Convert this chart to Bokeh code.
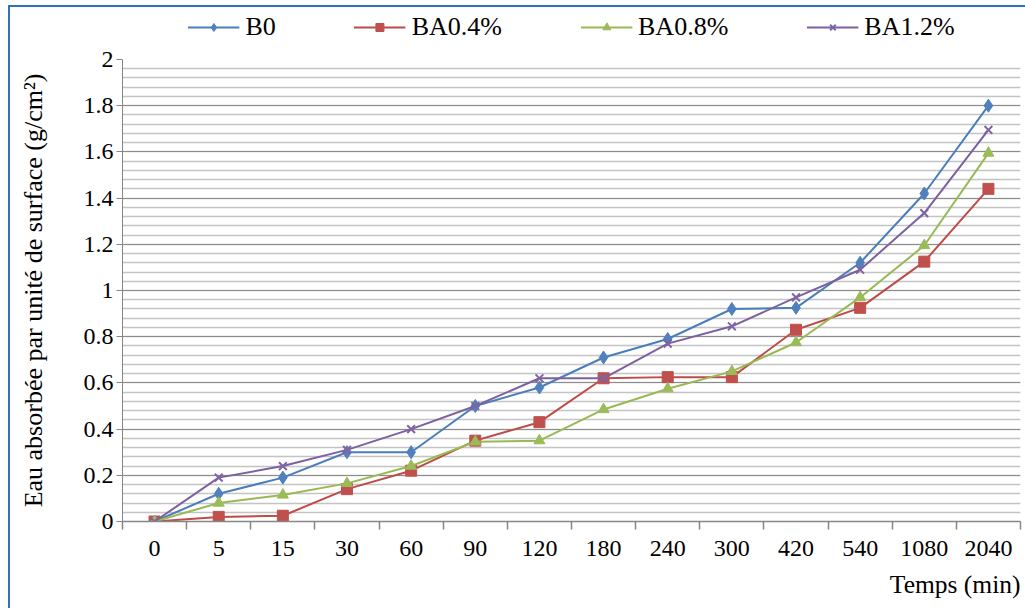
from bokeh.plotting import figure
from bokeh.layouts import column
from bokeh.models import (Legend, LegendItem, FixedTicker, SingleIntervalTicker,
                          CustomJSTickFormatter, Range1d, Title)
from bokeh.embed import file_html
from bokeh.resources import INLINE

# ---- data ----
times = ["0", "5", "15", "30", "60", "90", "120", "180", "240", "300", "420", "540", "1080", "2040"]
b0    = [0.00, 0.12, 0.19, 0.30, 0.30, 0.50, 0.58, 0.71, 0.79, 0.92, 0.925, 1.12, 1.42, 1.80]
ba04  = [0.00, 0.02, 0.025, 0.14, 0.22, 0.35, 0.43, 0.62, 0.625, 0.625, 0.83, 0.925, 1.125, 1.44]
ba08  = [0.00, 0.08, 0.115, 0.165, 0.24, 0.345, 0.35, 0.485, 0.575, 0.65, 0.775, 0.97, 1.195, 1.595]
ba12  = [0.00, 0.19, 0.24, 0.31, 0.40, 0.50, 0.62, 0.62, 0.77, 0.845, 0.97, 1.09, 1.335, 1.695]
series_names = ["B0", "BA0.4%", "BA0.8%", "BA1.2%"]
y_title = "Eau absorbée par unité de surface (g/cm²)"
x_title = "Temps (min)"

FONT = "Liberation Serif, Times New Roman, serif"
x = list(range(len(times)))

p = figure(width=1015, height=561, output_backend="svg", toolbar_location=None,
           x_range=Range1d(-0.5, len(times) - 0.5), y_range=Range1d(0, 2),
           min_border_left=112, min_border_right=5, min_border_top=12, min_border_bottom=87)
p.outline_line_color = None
p.background_fill_color = "white"
p.border_fill_color = "white"

# grid
p.xgrid.grid_line_color = None
p.ygrid.grid_line_color = "#8C8C8C"
p.ygrid.grid_line_width = 1.2
p.ygrid.minor_grid_line_color = "#C4C4C4"
p.ygrid.minor_grid_line_width = 1.5

# y axis
p.yaxis.ticker = SingleIntervalTicker(interval=0.2, num_minor_ticks=5)
p.yaxis.formatter = CustomJSTickFormatter(code="return (Math.round(tick*10)/10).toString();")
p.yaxis.axis_line_color = "#868686"
p.yaxis.major_tick_line_color = "#868686"
p.yaxis.major_tick_out = 6
p.yaxis.major_tick_in = 0
p.yaxis.minor_tick_line_color = None
p.yaxis.major_label_standoff = 3
p.yaxis.major_label_text_font = FONT
p.yaxis.major_label_text_font_size = "24px"
p.yaxis.major_label_text_color = "black"
p.yaxis.axis_label = y_title
p.yaxis.axis_label_text_font = FONT
p.yaxis.axis_label_text_font_style = "normal"
p.yaxis.axis_label_text_font_size = "26px"
p.yaxis.axis_label_text_color = "black"
p.yaxis.axis_label_standoff = 33

# x axis
p.xaxis.ticker = FixedTicker(ticks=x, minor_ticks=[i - 0.5 for i in range(len(times) + 1)])
p.xaxis.major_label_overrides = {i: t for i, t in zip(x, times)}
p.xaxis.axis_line_color = "#868686"
p.xaxis.axis_line_width = 1.5
p.xaxis.major_tick_line_color = None
p.xaxis.major_tick_out = 8
p.xaxis.minor_tick_line_color = "#868686"
p.xaxis.minor_tick_line_width = 1.5
p.xaxis.minor_tick_out = 8
p.xaxis.minor_tick_in = 0
p.xaxis.major_label_standoff = 11
p.xaxis.major_label_text_font = FONT
p.xaxis.major_label_text_font_size = "24px"
p.xaxis.major_label_text_color = "black"

p.add_layout(Title(text=x_title, align="right", text_font=FONT, text_font_size="25.5px",
                   text_font_style="normal", text_color="black", standoff=19), "below")

line_colors = ["#4A7EBB", "#BE4B48", "#98B954", "#7D60A0"]
fill_colors = ["#4F81BD", "#C0504D", "#9BBB59", "#8064A2"]
markers = ["diamond", "square", "triangle", "x"]
sizes = [13, 11, 11, 11]
all_data = [b0, ba04, ba08, ba12]

# legend strip (separate small figure so it sits above the plot area);
# its ranges are chosen so the series themselves stay out of view there
leg = figure(width=1015, height=40, output_backend="svg", toolbar_location=None,
             x_range=Range1d(-20, -19), y_range=Range1d(-20, -19),
             x_axis_location=None, y_axis_location=None,
             min_border_left=112, min_border_right=5, min_border_top=0, min_border_bottom=0)
leg.grid.visible = False
leg.outline_line_color = None
leg.border_fill_color = "white"
leg.background_fill_color = "white"

items = []
for name, ys, lc, fc, mk, sz in zip(series_names, all_data, line_colors, fill_colors, markers, sizes):
    p.line(x, ys, line_color=lc, line_width=2)
    l2 = leg.line(x, ys, line_color=lc, line_width=2)
    if mk == "x":
        p.scatter(x, ys, marker=mk, size=sz, line_color=fc, line_width=2)
        s2 = leg.scatter(x, ys, marker=mk, size=sz - 1, line_color=fc, line_width=2)
    else:
        p.scatter(x, ys, marker=mk, size=sz, fill_color=fc, line_color=fc)
        s2 = leg.scatter(x, ys, marker=mk, size=sz, fill_color=fc, line_color=fc)
    items.append(LegendItem(label=name, renderers=[l2, s2]))

legend = Legend(items=items, orientation="horizontal", location="center",
                label_text_font=FONT, label_text_font_size="26px", label_text_color="black",
                glyph_width=52, glyph_height=20, label_standoff=6, spacing=78,
                padding=2, margin=0, border_line_color=None, background_fill_alpha=0)
leg.add_layout(legend)

layout = column(leg, p, spacing=0,
                styles={"margin-left": "8px", "margin-top": "5px",
                        "border-left": "2px solid #2F75B5", "border-top": "2px solid #2F75B5",
                        "background-color": "white"})

open("out.html", "w").write(file_html(layout, INLINE))
